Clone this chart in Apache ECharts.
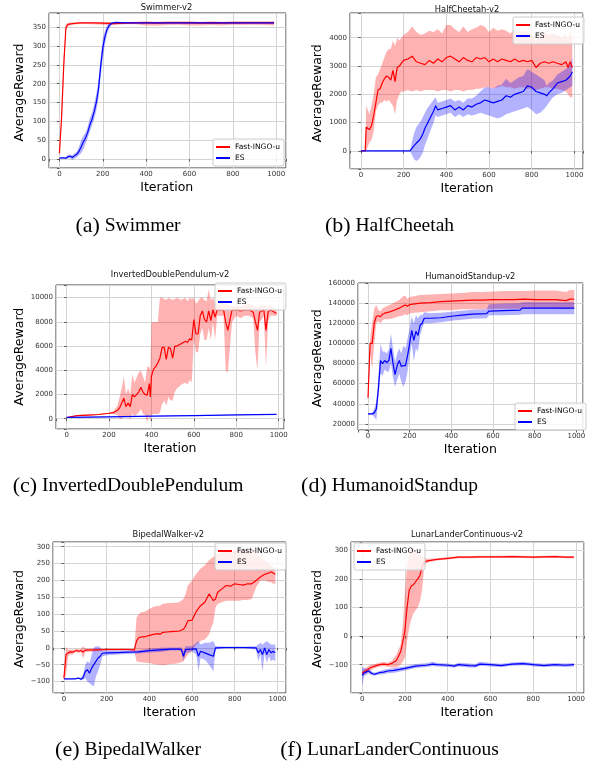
<!DOCTYPE html>
<html>
<head>
<meta charset="utf-8">
<script src="https://cdn.jsdelivr.net/npm/echarts@6/dist/echarts.min.js"></script>
<style>html,body{margin:0;padding:0;background:#fff}#c{width:597px;height:768px}</style>
</head>
<body>
<div id="c"></div>
<script>
// ---------- DATA ----------
const legendNames = ['Fast-INGO-u', 'ES'];
const xTickLabels = [0, 200, 400, 600, 800, 1000];

// (a) Swimmer
const swimRedX    = [0,10,20,30,40,60,80,100,150,200,250,300,350,400,450,500,550,600,650,700,750,800,850,900,950,990];
const swimRedMean = [15,110,250,350,358,360,361,362,362,361,360,361,362,362,361,362,362,362,361,362,361,362,362,362,362,362];
const swimRedLo   = [10,90,225,340,354,357,358,359,358,357,356,358,358,355,354,356,357,355,355,356,355,357,356,357,356,355];
const swimRedHi   = [20,130,275,358,362,363,363,364,364,364,364,364,365,366,365,366,366,366,365,366,365,366,366,366,366,366];
const swimBlueX    = [0,10,20,30,40,50,60,70,80,90,100,110,120,130,140,150,160,170,180,190,200,210,220,230,240,250,260,300,400,500,600,700,800,900,990];
const swimBlueMean = [2,3,3,2,6,7,4,9,12,20,32,45,55,70,90,105,125,150,185,245,295,325,345,355,360,362,363,362,362,362,362,362,362,362,362];
const swimBlueLo   = [0,1,1,0,1,2,-3,2,4,10,15,25,40,55,72,88,105,128,160,215,265,305,332,348,356,359,361,360,360,360,360,360,360,360,360];
const swimBlueHi   = [4,5,5,5,11,12,10,15,20,32,50,62,70,85,108,122,145,172,208,270,320,340,355,362,364,364,364,364,364,364,364,364,364,364,364];

// (b) HalfCheetah
const cheetahRedX    = [0,10,20,25,30,40,50,60,70,80,90,100,110,120,130,140,150,160,170,180,190,200,220,240,260,280,300,320,340,360,380,400,420,440,460,480,500,520,540,560,580,600,620,640,660,680,700,720,740,760,780,800,820,840,860,880,900,920,940,960,970,980,990];
const cheetahRedMean = [0,0,0,850,800,750,900,1250,1700,2150,2200,2400,2550,2650,2600,2500,2850,2450,2950,3000,3100,3200,3250,3350,3150,3100,3050,3200,3100,3250,3150,3300,3350,3250,3150,3300,3200,3150,3300,3250,3300,3150,3250,3150,3250,3200,3150,3250,3150,3200,3150,3200,2950,3100,3150,3100,3150,3100,3050,3150,2950,3150,2950];
const cheetahRedLo   = [0,0,0,0,100,300,400,700,1400,1600,1700,1700,1800,1750,1800,1700,1600,1300,1800,2000,2100,2100,2150,2100,2150,2100,2150,2150,2150,2100,2150,2150,2100,2150,2150,2100,2150,2150,2200,2200,2250,2250,2200,2250,2300,2250,2250,2200,2250,2250,2200,2200,2150,2200,2250,2250,2200,2200,2150,2100,2000,1900,1900];
const cheetahRedHi   = [0,0,0,1600,1500,1300,1600,2000,2600,2700,2900,3100,3300,3500,3600,3600,3900,3700,4000,3900,4000,4100,4200,4400,4200,4100,4150,4250,4200,4300,4150,4450,4450,4300,4200,4400,4200,4300,4350,4450,4400,4200,4350,4250,4300,4250,4150,4300,4200,4250,4200,4100,3900,4100,4200,4100,4150,4100,4000,4150,3900,4300,4000];
const cheetahBlueX    = [0,100,200,230,240,250,260,270,280,290,300,310,320,330,340,350,360,380,400,420,440,460,480,500,520,540,560,580,600,620,640,660,680,700,720,740,760,780,800,820,840,860,870,880,900,920,940,960,980,990];
const cheetahBlueMean = [0,0,0,0,100,200,280,350,450,600,800,950,1100,1250,1400,1600,1450,1500,1550,1600,1450,1550,1450,1600,1550,1650,1700,1800,1750,1700,1750,1800,1950,1900,2000,2050,2100,2300,2250,2100,2050,2000,1950,2050,2200,2400,2450,2500,2650,2800];
const cheetahBlueLo   = [0,0,0,0,-150,-300,-350,-300,-200,-50,200,400,600,800,1000,1250,1200,1250,1300,1350,1200,1300,1200,1300,1250,1300,1350,1300,1250,1200,1150,1200,1300,1350,1400,1450,1500,1550,1450,1300,1350,1500,1600,1700,1900,2000,2050,2150,2250,2300];
const cheetahBlueHi   = [0,0,0,0,350,650,850,950,1050,1200,1350,1500,1600,1700,1800,1900,1700,1750,1800,1850,1750,1800,1700,1850,1850,1950,2100,2250,2250,2200,2300,2350,2550,2400,2500,2600,2650,2900,2800,2700,2600,2500,2300,2400,2500,2700,2800,2900,3050,3300];

// (c) InvertedDoublePendulum
const pendRedX    = [0,50,100,150,200,220,240,250,260,270,280,290,300,310,320,340,350,360,370,380,390,395,400,410,420,430,440,450,460,470,480,490,500,510,520,540,560,570,580,590,600,610,620,630,640,650,660,670,680,690,700,710,720,740,750,760,780,800,820,840,860,880,890,900,910,920,930,940,950,960,970,980,990];
const pendRedMean = [100,250,300,350,450,500,700,900,1300,1700,1000,1300,1000,2000,1800,2200,2600,2200,2000,1950,2900,1800,3500,4100,4300,4600,5000,5900,5900,4900,5900,5800,5000,6000,6000,6200,6400,6300,6600,6500,8200,7000,7000,8500,8900,8200,8000,8900,8100,9000,8400,9000,9000,9000,8000,7300,9000,9000,8900,9000,9000,8800,8000,7300,8800,8900,9000,7300,8800,9000,8900,8800,8700];
const pendRedLo   = [80,200,250,300,400,400,300,0,0,200,100,200,0,400,200,500,800,400,300,-300,400,-300,300,400,400,400,500,1200,1500,1100,1800,1500,1500,2200,2500,2800,3000,2800,3200,3000,6500,5500,5500,7000,7500,6500,6500,7500,6500,8000,6500,8500,8500,8500,4000,3800,8000,8500,8300,8500,8500,8300,5500,4000,8000,8200,8500,4300,8000,8500,8500,8500,8500];
const pendRedHi   = [120,300,350,400,500,600,1100,1800,2500,3500,2000,2500,2000,3700,3000,3800,4000,3500,3000,4300,4300,4000,8000,8000,8000,8000,10000,10000,9900,9800,10000,9900,9800,9900,10000,9800,10000,9700,10000,9900,10000,9500,9700,10000,10000,9800,9700,10700,9800,10000,9600,9500,9400,9500,9500,9400,9300,9300,9300,9400,9500,9300,9300,9200,9300,9400,9400,9300,9300,9400,9200,9100,9000];
const pendBlueX    = [0,200,400,600,800,990];
const pendBlueMean = [110,160,210,260,310,355];
const pendBlueLo   = [90,140,190,240,290,335];
const pendBlueHi   = [130,180,230,280,330,375];

// (d) HumanoidStandup
const humRedX    = [0,10,20,30,40,50,60,70,80,100,120,150,170,180,190,200,250,300,350,400,450,500,550,600,650,700,750,800,850,900,950,970,990];
const humRedMean = [46000,100000,100000,120000,127000,127500,126500,129000,130000,131000,132500,135000,137500,138000,137000,138500,140000,140500,141500,142000,142500,143000,143000,143500,143500,143500,144000,143500,143500,143500,142500,144000,144000];
const humRedLo   = [44000,90000,75000,100000,120000,122000,120000,123000,124000,124000,125000,127000,128000,129000,128000,130000,131000,132000,133000,133000,134000,134000,134000,134500,134500,134500,134500,135000,135000,135000,134000,135000,135000];
const humRedHi   = [48000,105000,120000,135000,138000,133000,132000,135000,136000,138000,140000,143000,147000,147000,144000,146000,148000,148500,149000,149500,150000,151000,151000,151500,152000,152000,152000,152500,152500,152500,151000,153000,153000];
const humBlueX    = [0,10,20,30,40,50,60,70,80,90,100,110,120,130,140,150,160,170,180,190,200,210,220,230,240,250,260,270,300,350,400,450,500,570,580,650,730,740,800,900,990];
const humBlueMean = [30000,30000,30000,31000,35000,55000,83000,80000,83000,81000,83000,95000,80000,69000,78000,83000,77000,78000,78000,88000,100000,113000,103000,112000,108000,118000,120000,125000,125000,125500,127000,128000,129000,129500,132000,132500,133000,135000,135000,135000,135000];
const humBlueLo   = [29500,29500,29000,27000,24000,45000,70000,68000,74000,72000,72000,80000,66000,57000,64000,70000,62000,57000,62000,72000,88000,100000,82000,95000,92000,108000,115000,120000,120000,121000,122500,123500,124500,125000,128000,128000,128500,129000,129000,129000,129000];
const humBlueHi   = [30500,30500,31000,35000,42000,67000,100000,92000,92000,90000,94000,110000,95000,82000,90000,95000,90000,98000,95000,105000,115000,127000,120000,128000,125000,128000,128000,131000,130000,130500,131500,132500,133500,134000,139000,139500,140000,141000,141000,141000,141000];

// (e) BipedalWalker
const bipRedX    = [0,10,20,30,40,50,60,70,80,90,100,150,200,250,300,330,340,350,360,380,400,420,440,450,460,480,500,520,540,560,570,580,600,610,620,640,660,680,690,700,710,720,740,760,780,800,820,840,860,880,900,920,940,960,970,980,990];
const bipRedMean = [-90,-20,-15,-12,-13,-10,-8,-10,-8,-12,-7,-6,-5,-5,-5,-6,20,30,32,33,37,40,42,40,45,47,48,49,50,55,65,80,82,95,108,125,135,160,150,140,145,165,175,185,183,190,188,186,190,190,200,210,218,222,226,222,218];
const bipRedLo   = [-95,-80,-25,-20,-20,-15,-13,-15,-13,-32,-12,-10,-9,-8,-8,-10,-40,-42,-43,-44,-45,-48,-50,-50,-52,-50,-48,-47,-45,-40,-30,-20,-10,0,10,20,25,40,60,75,120,130,135,140,140,140,140,142,142,145,180,200,200,195,195,190,190];
const bipRedHi   = [-85,2,-5,-5,-6,-5,-3,-5,-3,5,-2,-2,-1,-1,-1,-2,90,100,105,108,115,122,125,125,130,132,133,134,135,145,160,185,200,210,220,235,245,260,265,270,275,280,285,285,285,290,290,290,290,290,280,270,260,250,245,240,235];
const bipBlueX    = [0,50,70,80,90,100,110,120,130,140,150,160,170,180,200,250,300,350,400,450,500,540,550,560,570,600,620,630,640,660,680,700,710,750,800,850,900,910,920,930,940,950,960,970,980,990];
const bipBlueMean = [-92,-92,-90,-93,-88,-70,-65,-75,-60,-50,-40,-30,-25,-16,-15,-14,-13,-12,-8,-6,-4,-4,-5,-25,-5,-4,-3,-25,-10,-15,-20,-25,0,1,1,1,0,-15,-5,-20,0,-20,-5,-15,-10,-15];
const bipBlueLo   = [-93,-93,-92,-97,-95,-90,-100,-105,-110,-115,-85,-70,-50,-25,-22,-20,-18,-17,-14,-12,-8,-8,-10,-40,-15,-10,-20,-70,-30,-35,-50,-70,-5,-3,-3,-3,-5,-40,-20,-70,-15,-45,-25,-40,-35,-40];
const bipBlueHi   = [-91,-91,-88,-89,-80,-50,-40,-45,-20,0,5,5,2,-8,-8,-8,-8,-7,-3,0,1,1,2,-10,5,5,15,20,10,15,15,20,5,4,4,4,5,10,15,10,15,20,15,10,10,10];

// (f) LunarLanderContinuous
const lunarRedX    = [0,10,20,30,40,60,80,100,120,140,160,180,190,200,210,220,230,240,250,260,270,280,290,300,320,350,400,450,500,550,600,650,700,750,800,850,900,950,990];
const lunarRedMean = [-130,-125,-120,-115,-110,-105,-100,-98,-100,-95,-85,-55,-20,20,100,160,175,180,190,200,212,240,258,262,265,268,272,276,276,277,277,277,278,277,276,277,278,276,276];
const lunarRedLo   = [-140,-135,-130,-125,-120,-112,-107,-105,-107,-110,-110,-100,-90,-75,-20,30,60,80,90,100,120,160,240,255,260,264,268,272,272,273,273,273,274,273,272,273,274,272,272];
const lunarRedHi   = [-120,-115,-110,-105,-100,-98,-93,-91,-93,-85,-65,-30,40,150,250,290,305,305,300,290,285,280,275,270,270,272,276,280,280,281,281,281,282,281,280,281,282,280,280];
const lunarBlueX    = [0,10,20,30,40,50,60,80,100,120,150,200,250,300,330,350,400,430,450,500,530,550,600,650,700,750,780,800,850,900,950,990];
const lunarBlueMean = [-137,-128,-125,-122,-128,-132,-133,-128,-126,-122,-120,-113,-105,-102,-98,-100,-102,-105,-100,-103,-104,-98,-100,-103,-98,-96,-98,-100,-103,-100,-102,-100];
const lunarBlueLo   = [-175,-140,-135,-130,-135,-138,-138,-134,-133,-130,-128,-120,-112,-108,-105,-106,-108,-110,-106,-110,-110,-104,-106,-108,-104,-102,-104,-106,-108,-106,-108,-106];
const lunarBlueHi   = [-110,-110,-115,-112,-120,-126,-128,-122,-119,-115,-112,-106,-98,-95,-90,-94,-96,-99,-93,-96,-98,-90,-94,-97,-92,-90,-92,-94,-97,-94,-96,-94];

// ---------- LAYOUT ----------
const FONT = 'DejaVu Sans';
const RED = '#ff0000', BLUE = '#0000ff';
const RED_BAND = 'rgba(255,0,0,0.3)', BLUE_BAND = 'rgba(0,0,255,0.3)';

const panels = [
  { title:'Swimmer-v2', tag:'(a)', name:'Swimmer',
    grid:{left:49, top:13, width:237, height:155}, xr:[-48,1045], yr:[-24,388], ystep:50,
    red:[swimRedX, swimRedMean, swimRedLo, swimRedHi], blue:[swimBlueX, swimBlueMean, swimBlueLo, swimBlueHi],
    legend:{left:213, top:139}, titleXY:[166.5,7.5], ylab:[20,92.5], xlab:[166.7,188], cap:[128,226] },
  { title:'HalfCheetah-v2', tag:'(b)', name:'HalfCheetah',
    grid:{left:350, top:13, width:233, height:156}, xr:[-51,1040], yr:[-637,4874], ystep:1000,
    red:[cheetahRedX, cheetahRedMean, cheetahRedLo, cheetahRedHi], blue:[cheetahBlueX, cheetahBlueMean, cheetahBlueLo, cheetahBlueHi],
    legend:{left:513, top:17}, titleXY:[467,10], ylab:[317.7,93.3], xlab:[467,188.3], cap:[389.5,226] },
  { title:'InvertedDoublePendulum-v2', tag:'(c)', name:'InvertedDoublePendulum',
    grid:{left:56, top:285, width:228, height:144}, xr:[-50,1025], yr:[-849,11047], ystep:2000,
    red:[pendRedX, pendRedMean, pendRedLo, pendRedHi], blue:[pendBlueX, pendBlueMean, pendBlueLo, pendBlueHi],
    legend:{left:215, top:283}, titleXY:[170,274.5], ylab:[20,356.7], xlab:[170,449], cap:[128,486] },
  { title:'HumanoidStandup-v2', tag:'(d)', name:'HumanoidStandup',
    grid:{left:358, top:283, width:225, height:147}, xr:[-48,1032], yr:[14000,160000], ystep:20000,
    red:[humRedX, humRedMean, humRedLo, humRedHi], blue:[humBlueX, humBlueMean, humBlueLo, humBlueHi],
    legend:{left:515, top:403}, titleXY:[470.3,276.7], ylab:[317.7,358.3], xlab:[470.3,450], cap:[389.5,486] },
  { title:'BipedalWalker-v2', tag:'(e)', name:'BipedalWalker',
    grid:{left:53, top:542, width:233, height:151}, xr:[-51,1040], yr:[-134,314], ystep:50,
    red:[bipRedX, bipRedMean, bipRedLo, bipRedHi], blue:[bipBlueX, bipBlueMean, bipBlueLo, bipBlueHi],
    legend:{left:215, top:543}, titleXY:[168.3,535], ylab:[20,619], xlab:[169.3,713], cap:[128,750] },
  { title:'LunarLanderContinuous-v2', tag:'(f)', name:'LunarLanderContinuous',
    grid:{left:351, top:542, width:233, height:151}, xr:[-52,1037], yr:[-199,329], ystep:100,
    red:[lunarRedX, lunarRedMean, lunarRedLo, lunarRedHi], blue:[lunarBlueX, lunarBlueMean, lunarBlueLo, lunarBlueHi],
    legend:{left:354, top:543}, titleXY:[467,535], ylab:[317.7,619], xlab:[467,713], cap:[389.5,750] }
];

function fmtNum(v) { return v < 0 ? '\u2212' + Math.abs(v) : String(v); }

function bandSeries(gi, xs, lo, hi, color, z) {
  return {
    type:'custom', xAxisIndex:gi, yAxisIndex:gi, silent:true, z:z, animation:false,
    data: xs.map((x,i)=>[x, lo[i], hi[i]]),
    encode:{x:0, y:[1,2]},
    renderItem(params, api) {
      if (params.dataIndex !== 0) return null;
      const pts = [];
      for (let i = 0; i < xs.length; i++) pts.push(api.coord([xs[i], hi[i]]));
      for (let i = xs.length - 1; i >= 0; i--) pts.push(api.coord([xs[i], lo[i]]));
      return {type:'polygon', shape:{points:pts}, style:{fill:color}};
    }
  };
}
function lineSeries(gi, name, xs, m, color, z) {
  return {
    type:'line', name:name, xAxisIndex:gi, yAxisIndex:gi, z:z, animation:false,
    data: xs.map((x,i)=>[x, m[i]]), showSymbol:false, symbol:'none',
    lineStyle:{color:color, width:1.2}, itemStyle:{color:color}
  };
}

const grids = [], xAxes = [], yAxes = [], series = [], legends = [], graphics = [];
panels.forEach((p, gi) => {
  grids.push(Object.assign({show:true, borderColor:'#3a3a3a', borderWidth:1, backgroundColor:'rgba(0,0,0,0)'}, p.grid));
  xAxes.push({
    type:'value', gridIndex:gi, min:p.xr[0], max:p.xr[1], minInterval:200, maxInterval:200,
    axisLine:{show:false},
    axisTick:{show:true, length:2.5, lineStyle:{color:'#3a3a3a', width:0.8}},
    axisLabel:{fontSize:7, color:'#333', margin:3, fontFamily:FONT,
      formatter: v => xTickLabels.indexOf(Math.round(v)) >= 0 && Math.abs(v - Math.round(v)) < 1e-6 ? fmtNum(Math.round(v)) : ''},
    splitLine:{show:true, lineStyle:{color:'#d4d4d4', width:1}}
  });
  yAxes.push({
    type:'value', gridIndex:gi, min:p.yr[0], max:p.yr[1], minInterval:p.ystep, maxInterval:p.ystep,
    axisLine:{show:false},
    axisTick:{show:true, length:2.5, lineStyle:{color:'#3a3a3a', width:0.8}},
    axisLabel:{fontSize:7, color:'#333', margin:3, fontFamily:FONT,
      formatter: v => Math.abs(v / p.ystep - Math.round(v / p.ystep)) < 1e-6 ? fmtNum(Math.round(v)) : ''},
    splitLine:{show:true, lineStyle:{color:'#d4d4d4', width:1}}
  });
  series.push(bandSeries(gi, p.red[0], p.red[2], p.red[3], RED_BAND, 1));
  series.push(bandSeries(gi, p.blue[0], p.blue[2], p.blue[3], BLUE_BAND, 2));
  series.push(lineSeries(gi, legendNames[0], p.red[0], p.red[1], RED, 3));
  series.push(lineSeries(gi, legendNames[1], p.blue[0], p.blue[1], BLUE, 4));
  legends.push({
    orient:'vertical', left:p.legend.left, top:p.legend.top, data:legendNames, selectedMode:false,
    icon:'rect', itemWidth:14, itemHeight:2, itemGap:1, itemTextGap:5, padding:[3,4,3,3],
    backgroundColor:'rgba(255,255,255,0.8)', borderColor:'#cccccc', borderWidth:1, borderRadius:2,
    textStyle:{fontSize:7.5, fontFamily:FONT, color:'#000', lineHeight:10}
  });
  graphics.push({type:'text', x:p.titleXY[0], y:p.titleXY[1], z:10,
    style:{text:p.title, fontSize:8.3, fontFamily:FONT, fill:'#111', align:'center', verticalAlign:'middle'}});
  graphics.push({type:'text', x:p.ylab[0], y:p.ylab[1], rotation:Math.PI/2, z:10,
    style:{text:'AverageReward', fontSize:12.5, fontFamily:FONT, fill:'#000', align:'center', verticalAlign:'middle'}});
  graphics.push({type:'text', x:p.xlab[0], y:p.xlab[1], z:10,
    style:{text:'Iteration', fontSize:12.5, fontFamily:FONT, fill:'#000', align:'center', verticalAlign:'middle'}});
  graphics.push({type:'text', x:p.cap[0], y:p.cap[1], z:10,
    style:{text:'{l|' + p.tag + '} {n|' + p.name + '}', fontSize:19.5, fontFamily:'Liberation Serif', fill:'#000',
      align:'center', verticalAlign:'middle',
      rich:{l:{fontSize:22, fontFamily:'Liberation Serif', fill:'#000'}, n:{fontSize:19.5, fontFamily:'Liberation Serif', fill:'#000'}}}});
});

const chart = echarts.init(document.getElementById('c'), null, {renderer:'canvas'});
chart.setOption({
  backgroundColor:'#ffffff',
  animation:false,
  textStyle:{fontFamily:FONT},
  grid:grids, xAxis:xAxes, yAxis:yAxes, series:series, legend:legends, graphic:graphics
});
</script>
</body>
</html>
